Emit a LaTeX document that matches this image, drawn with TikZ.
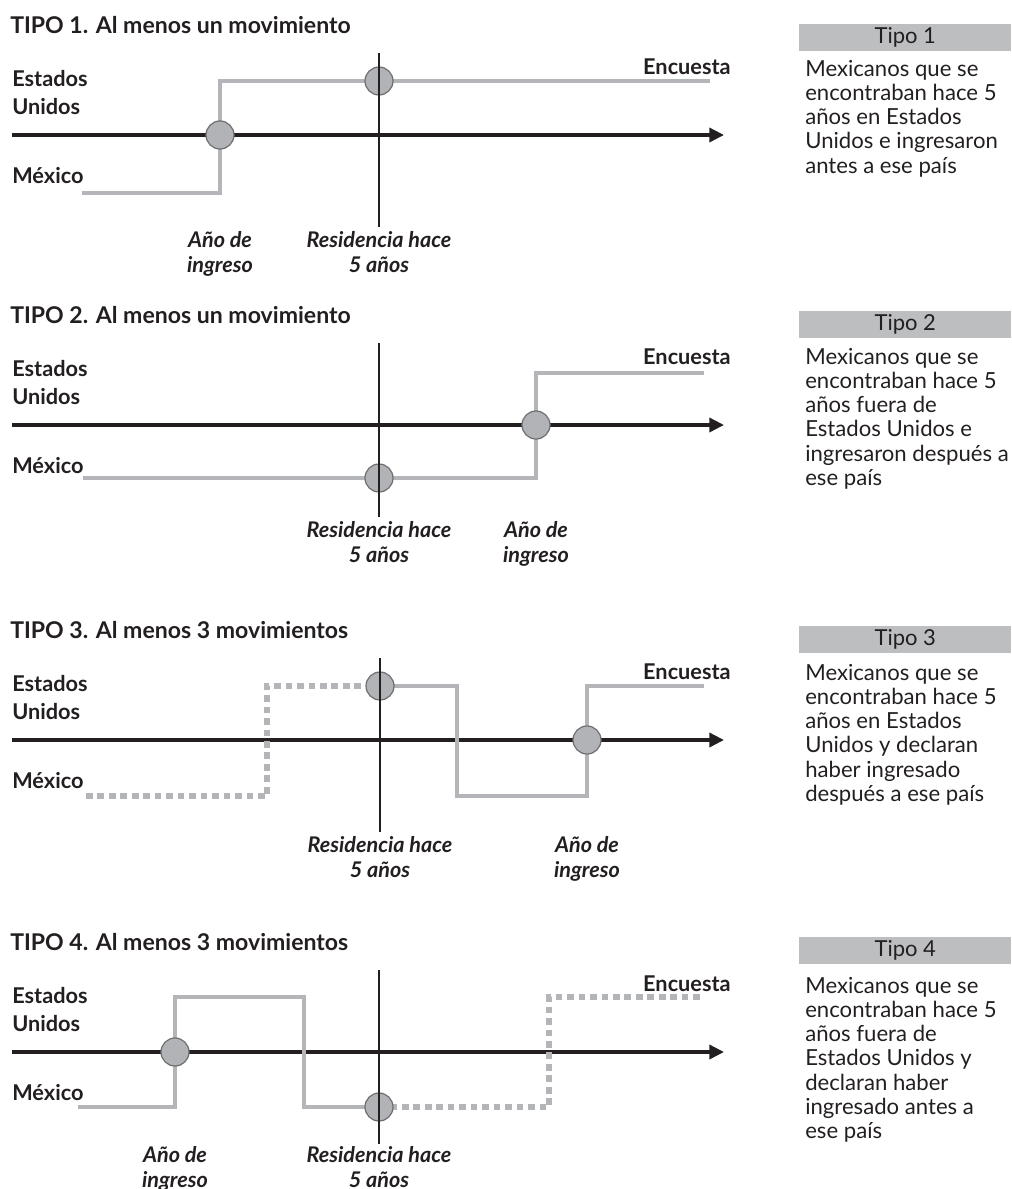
\documentclass[tikz,border=0pt]{standalone}
\usepackage{fontspec}
\setmainfont{Lato}
\usetikzlibrary{arrows.meta}
\definecolor{lgray}{HTML}{B3B5B8}
\definecolor{cgray}{HTML}{B1B3B6}
\definecolor{cedge}{HTML}{6D6E70}
\definecolor{ink}{HTML}{231F20}
\definecolor{bargray}{HTML}{BCBEC0}
\tikzset{
 axisline/.style={line width=2.6pt, draw=ink, -{Triangle[length=11pt,width=10.5pt]}},
 moveline/.style={line width=3.6pt, draw=lgray},
 dotline/.style={line width=4.3pt, draw=lgray, dash pattern=on 5pt off 3.6pt},
 refline/.style={line width=0.9pt, draw=ink},
 dot/.style={circle, minimum size=21pt, inner sep=0pt, fill=cgray, draw=cedge, line width=0.9pt},
 titletext/.style={anchor=base west, inner sep=0pt, font=\fontsize{17.3}{20}\selectfont\bfseries, text=ink},
 sidetext/.style={anchor=base west, inner sep=0pt, font=\fontsize{16.3}{19}\selectfont\bfseries, text=ink},
 endtext/.style={anchor=base east, inner sep=0pt, font=\fontsize{16.3}{19}\selectfont\bfseries, text=ink},
 eventtext/.style={anchor=base, inner sep=0pt, font=\fontsize{16.2}{18.75}\selectfont\bfseries\itshape, text=ink},
 tipobar/.style={fill=bargray, draw=none, minimum width=159pt, minimum height=20.25pt, inner sep=0pt, anchor=north west, font=\fontsize{16.5}{18}\selectfont, text=ink},
 desctext/.style={anchor=base west, inner sep=0pt, font=\fontsize{16.6}{18.2}\selectfont, text=ink},
}
\newcommand{\twoline}[2]{\begin{tabular}[t]{@{}c@{}}#1\\#2\end{tabular}}
\newcommand{\desclines}[1]{\parbox[t]{250pt}{\raggedright #1}}
\begin{document}
\begin{tikzpicture}[x=0.75pt,y=-0.75pt]
\useasboundingbox (0,0) rectangle (1011,1189);

% ---------------- Panel 1 ----------------
\begin{scope}[shift={(0,135)}]
 \node[titletext] (t1) at (10,-102) {TIPO 1. Al menos un movimiento};
 \node[sidetext] (eu1) at (12,-49) {Estados};
 \node[sidetext] (un1) at (12,-21) {Unidos};
 \node[sidetext] (mx1) at (12,48) {México};
 \node[endtext] (en1) at (731,-61) {Encuesta};
 \coordinate (ax1s) at (12,0);
 \coordinate (ax1e) at (724,0);
 \draw[axisline] (ax1s) -- (ax1e);
 \coordinate (p1s) at (82,58);
 \coordinate (p1e) at (710,-54);
 \draw[moveline] (p1s) -- (220,58) -- (220,-54) -- (p1e);
 \node[dot] (c1a) at (220,0) {};
 \node[dot] (c1b) at (379,-54) {};
 \coordinate (v1t) at (379,-82);
 \coordinate (v1b) at (379,92);
 \draw[refline] (v1t) -- (v1b);
 \node[eventtext] (l1a) at (220,112) {\twoline{Año de}{ingreso}};
 \node[eventtext] (l1b) at (379,112) {\twoline{Residencia hace}{5 años}};
 \node[tipobar] (b1) at (799,-111) {Tipo 1};
 \node[desctext] (d1) at (805,-59) {\desclines{Mexicanos que se\\encontraban hace 5\\años en Estados\\Unidos e ingresaron\\antes a ese país}};
\end{scope}

% ---------------- Panel 2 ----------------
\begin{scope}[shift={(0,425)}]
 \node[titletext] (t2) at (10,-102) {TIPO 2. Al menos un movimiento};
 \node[sidetext] (eu2) at (12,-49) {Estados};
 \node[sidetext] (un2) at (12,-21) {Unidos};
 \node[sidetext] (mx2) at (12,48) {México};
 \node[endtext] (en2) at (731,-61) {Encuesta};
 \coordinate (ax2s) at (12,0);
 \coordinate (ax2e) at (724,0);
 \draw[axisline] (ax2s) -- (ax2e);
 \coordinate (p2s) at (83,53);
 \coordinate (p2e) at (704,-52);
 \draw[moveline] (p2s) -- (536,53) -- (536,-52) -- (p2e);
 \node[dot] (c2a) at (379,53) {};
 \node[dot] (c2b) at (536,0) {};
 \coordinate (v2t) at (379,-82);
 \coordinate (v2b) at (379,92);
 \draw[refline] (v2t) -- (v2b);
 \node[eventtext] (l2a) at (379,112) {\twoline{Residencia hace}{5 años}};
 \node[eventtext] (l2b) at (536,112) {\twoline{Año de}{ingreso}};
 \node[tipobar] (b2) at (799,-114) {Tipo 2};
 \node[desctext] (d2) at (805,-61) {\desclines{Mexicanos que se\\encontraban hace 5\\años fuera de\\Estados Unidos e\\ingresaron después a\\ese país}};
\end{scope}

% ---------------- Panel 3 ----------------
\begin{scope}[shift={(0,740)}]
 \node[titletext] (t3) at (10,-102) {TIPO 3. Al menos 3 movimientos};
 \node[sidetext] (eu3) at (12,-49) {Estados};
 \node[sidetext] (un3) at (12,-21) {Unidos};
 \node[sidetext] (mx3) at (12,48) {México};
 \node[endtext] (en3) at (731,-61) {Encuesta};
 \coordinate (ax3s) at (12,0);
 \coordinate (ax3e) at (724,0);
 \draw[axisline] (ax3s) -- (ax3e);
 \coordinate (p3s) at (86,56);
 \coordinate (p3e) at (704,-54);
 \draw[dotline] (p3s) -- (267,56) -- (267,-54) -- (380,-54);
 \draw[moveline] (380,-54) -- (457,-54) -- (457,56) -- (587,56) -- (587,-54) -- (p3e);
 \node[dot] (c3a) at (380,-54) {};
 \node[dot] (c3b) at (587,0) {};
 \coordinate (v3t) at (380,-82);
 \coordinate (v3b) at (380,92);
 \draw[refline] (v3t) -- (v3b);
 \node[eventtext] (l3a) at (380,112) {\twoline{Residencia hace}{5 años}};
 \node[eventtext] (l3b) at (587,112) {\twoline{Año de}{ingreso}};
 \node[tipobar] (b3) at (799,-114) {Tipo 3};
 \node[desctext] (d3) at (805,-60) {\desclines{Mexicanos que se\\encontraban hace 5\\años en Estados\\Unidos y declaran\\haber ingresado\\después a ese país}};
\end{scope}

% ---------------- Panel 4 ----------------
\begin{scope}[shift={(0,1052)}]
 \node[titletext] (t4) at (10,-102) {TIPO 4. Al menos 3 movimientos};
 \node[sidetext] (eu4) at (12,-49) {Estados};
 \node[sidetext] (un4) at (12,-21) {Unidos};
 \node[sidetext] (mx4) at (12,48) {México};
 \node[endtext] (en4) at (731,-61) {Encuesta};
 \coordinate (ax4s) at (12,0);
 \coordinate (ax4e) at (724,0);
 \draw[axisline] (ax4s) -- (ax4e);
 \coordinate (p4s) at (78,55);
 \coordinate (p4e) at (704,-55);
 \draw[moveline] (p4s) -- (175,55) -- (175,-55) -- (304,-55) -- (304,55) -- (379,55);
 \draw[dotline] (379,55) -- (549,55) -- (549,-55) -- (p4e);
 \node[dot] (c4a) at (175,0) {};
 \node[dot] (c4b) at (379,55) {};
 \coordinate (v4t) at (379,-82);
 \coordinate (v4b) at (379,92);
 \draw[refline] (v4t) -- (v4b);
 \node[eventtext] (l4a) at (175,110) {\twoline{Año de}{ingreso}};
 \node[eventtext] (l4b) at (379,110) {\twoline{Residencia hace}{5 años}};
 \node[tipobar] (b4) at (799,-115) {Tipo 4};
 \node[desctext] (d4) at (805,-59) {\desclines{Mexicanos que se\\encontraban hace 5\\años fuera de\\Estados Unidos y\\declaran haber\\ingresado antes a\\ese país}};
\end{scope}
\end{tikzpicture}
\end{document}
